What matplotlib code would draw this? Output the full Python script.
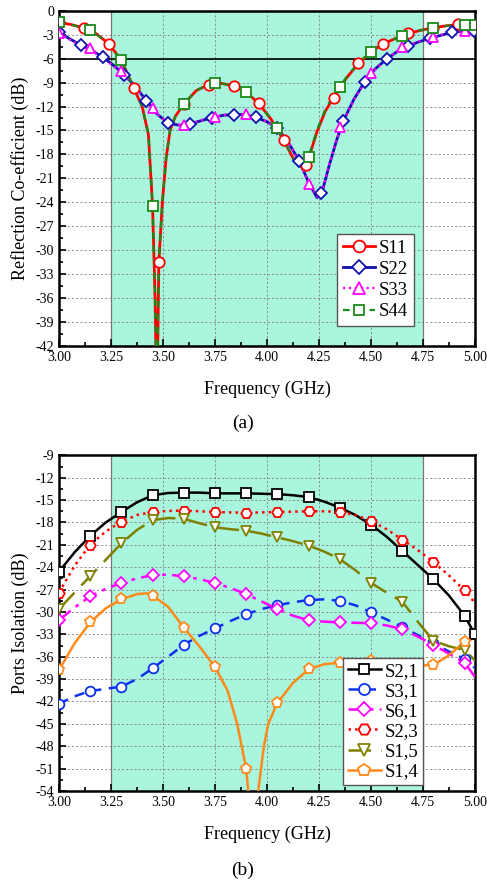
from matplotlib import pyplot
from matplotlib.lines import Line2D
from matplotlib.ticker import MultipleLocator

# ---- (a) reflection coefficients: curve points
s11_f = [3.00, 3.06, 3.12, 3.18, 3.24, 3.30, 3.36, 3.40, 3.43, 3.45,
         3.462, 3.471, 3.48, 3.497, 3.515, 3.534, 3.56, 3.60, 3.66, 3.72,
         3.78, 3.84, 3.90, 3.96, 4.02, 4.08, 4.13, 4.17, 4.20, 4.24,
         4.28, 4.32, 4.38, 4.44, 4.50, 4.56, 4.62, 4.68, 4.74, 4.80,
         4.86, 4.92, 5.00]
s11_db = [-1.45, -1.75, -2.15, -2.9, -4.15, -6.2, -9.7, -12.0, -15.5, -24.5,
          -36.0, -50.0, -31.5, -24.0, -18.5, -15.0, -13.2, -11.7, -10.0, -9.25,
          -9.1, -9.4, -10.2, -11.6, -13.6, -16.2, -18.7, -19.6, -18.5, -15.2,
          -12.6, -10.9, -8.5, -6.6, -5.15, -4.15, -3.45, -2.85, -2.45, -2.13,
          -1.9, -1.72, -1.7]
s44_db = [-1.4, -1.75, -2.2, -2.95, -4.2, -6.2, -9.7, -12.0, -15.5, -24.5,
          -36.0, -50.0, -31.5, -24.0, -18.5, -15.0, -13.2, -11.7, -10.0, -9.2,
          -9.1, -9.4, -10.2, -11.6, -13.6, -16.2, -18.6, -19.4, -18.3, -15.0,
          -12.4, -10.6, -8.4, -6.5, -5.15, -4.1, -3.45, -2.85, -2.45, -2.13,
          -1.9, -1.78, -1.8]

s22_f = [3.00, 3.05, 3.105, 3.16, 3.21, 3.26, 3.315, 3.37, 3.42, 3.47,
         3.525, 3.58, 3.63, 3.68, 3.735, 3.79, 3.84, 3.89, 3.945, 4.00,
         4.05, 4.10, 4.155, 4.20, 4.24, 4.265, 4.30, 4.335, 4.367, 4.42,
         4.47, 4.52, 4.575, 4.63, 4.68, 4.73, 4.785, 4.84, 4.89, 4.95,
         5.00]
s22_db = [-2.7, -3.5, -4.3, -5.0, -5.8, -6.8, -8.0, -9.6, -11.25, -12.9,
          -14.1, -14.35, -14.2, -13.8, -13.4, -13.1, -13.0, -13.0, -13.35, -13.9,
          -14.7, -16.4, -18.8, -21.5, -23.4, -22.7, -19.3, -16.2, -13.8, -11.0,
          -8.9, -7.3, -6.05, -5.05, -4.4, -3.9, -3.45, -3.05, -2.72, -2.55,
          -2.5]
s33_db = [-2.8, -3.6, -4.4, -5.1, -5.9, -6.9, -8.1, -9.7, -11.3, -12.9,
          -14.1, -14.3, -14.15, -13.75, -13.35, -13.05, -12.95, -12.95, -13.3, -13.9,
          -14.7, -16.4, -18.9, -21.6, -23.3, -22.6, -19.2, -16.1, -13.9, -11.1,
          -9.0, -7.4, -6.1, -5.0, -4.35, -3.85, -3.4, -3.0, -2.7, -2.55,
          -2.5]

# marker points
s11_mf = [3.00, 3.12, 3.24, 3.36, 3.48, 3.60, 3.72, 3.84, 3.96, 4.08,
          4.19, 4.32, 4.44, 4.56, 4.68, 4.80, 4.92]
s11_mdb = [-1.45, -2.15, -4.15, -9.7, -31.5, -11.7, -9.25, -9.4, -11.6, -16.2,
           -19.3, -10.9, -6.6, -4.15, -2.85, -2.13, -1.72]
s22_mf = [3.00, 3.105, 3.21, 3.315, 3.42, 3.525, 3.63, 3.735, 3.84, 3.945,
          4.05, 4.155, 4.26, 4.367, 4.47, 4.575, 4.68, 4.785, 4.89, 4.995]
s22_mdb = [-2.7, -4.3, -5.8, -8.0, -11.25, -14.1, -14.2, -13.4, -13.0, -13.35,
           -14.7, -18.8, -22.8, -13.8, -8.9, -6.05, -4.4, -3.45, -2.72, -2.5]
s33_mf = [3.00, 3.15, 3.30, 3.45, 3.60, 3.75, 3.90, 4.05, 4.20, 4.35,
          4.50, 4.65, 4.80, 4.95]
s33_mdb = [-2.85, -4.7, -7.5, -12.2, -14.3, -13.3, -12.9, -14.7, -21.7, -14.6,
           -7.8, -4.6, -3.25, -2.55]
s44_mf = [3.00, 3.15, 3.30, 3.45, 3.60, 3.75, 3.90, 4.05, 4.20, 4.35,
          4.50, 4.65, 4.80, 4.95, 5.00]
s44_mdb = [-1.4, -2.42, -6.2, -24.5, -11.7, -9.1, -10.2, -14.75, -18.3, -9.5,
           -5.15, -3.17, -2.13, -1.8, -1.8]

# ---- (b) isolation: markers every 0.15 GHz, plus in-between curve points
iso_f = [3.00, 3.075, 3.15, 3.225, 3.30, 3.375, 3.45, 3.525, 3.60, 3.675,
         3.75, 3.825, 3.90, 3.975, 4.05, 4.125, 4.20, 4.275, 4.35, 4.425,
         4.50, 4.575, 4.65, 4.725, 4.80, 4.875, 4.95, 5.00]
s21_db = [-24.6, -22.0, -19.8, -18.0, -16.6, -15.3, -14.35, -14.05, -14.0, -14.0,
          -14.1, -14.1, -14.1, -14.15, -14.2, -14.35, -14.6, -15.2, -16.0, -17.0,
          -18.3, -19.9, -21.8, -23.7, -25.6, -27.8, -30.5, -33.0]
s31_db = [-42.3, -41.3, -40.6, -40.3, -40.0, -39.0, -37.55, -36.0, -34.4, -33.2,
          -32.2, -31.2, -30.3, -29.6, -29.1, -28.7, -28.4, -28.3, -28.5, -29.1,
          -30.05, -31.0, -32.0, -33.1, -34.2, -35.3, -36.3, -37.5]
s61_db = [-31.1, -29.4, -27.9, -26.9, -26.1, -25.5, -25.05, -25.0, -25.2, -25.6,
          -26.1, -26.8, -27.6, -28.6, -29.6, -30.5, -31.1, -31.3, -31.4, -31.45,
          -31.5, -31.8, -32.3, -33.3, -34.4, -35.6, -36.8, -38.7]
s23_db = [-27.4, -23.8, -21.0, -19.2, -17.9, -17.0, -16.6, -16.45, -16.4, -16.5,
          -16.6, -16.65, -16.7, -16.65, -16.6, -16.55, -16.5, -16.5, -16.6, -17.0,
          -17.8, -18.9, -20.3, -21.7, -23.3, -25.1, -27.1, -28.8]
s15_db = [-29.6, -27.4, -25.2, -23.0, -20.8, -19.0, -17.7, -17.4, -17.5, -18.1,
          -18.65, -18.9, -19.1, -19.5, -20.0, -20.5, -21.1, -21.9, -22.9, -24.4,
          -26.1, -27.4, -28.6, -31.3, -33.85, -34.6, -35.1, -36.5]

s14_f = [3.00, 3.075, 3.15, 3.225, 3.30, 3.375, 3.42, 3.45, 3.525, 3.60,
         3.675, 3.75, 3.81, 3.857, 3.90, 3.91, 3.935, 3.958, 3.985, 4.006,
         4.05, 4.125, 4.20, 4.275, 4.35, 4.425, 4.50, 4.575, 4.65, 4.725,
         4.80, 4.875, 4.95, 5.00]
s14_db = [-37.8, -34.2, -31.4, -29.5, -28.3, -27.6, -27.5, -27.8, -29.3, -32.1,
          -34.6, -37.4, -40.5, -45.0, -51.0, -54.0, -62.0, -54.0, -48.0, -45.0,
          -42.2, -39.5, -37.7, -37.0, -36.8, -36.6, -36.6, -36.8, -37.0, -37.2,
          -37.1, -35.8, -34.0, -33.5]
s14_mf = [3.00, 3.15, 3.30, 3.45, 3.60, 3.75, 3.90, 4.05, 4.20, 4.35,
          4.50, 4.65, 4.80, 4.95]
s14_mdb = [-37.8, -31.4, -28.3, -27.8, -32.1, -37.4, -51.0, -42.2, -37.7, -36.8,
           -36.6, -37.0, -37.1, -34.0]

pyplot.rcParams["font.family"] = ["Liberation Serif", "DejaVu Serif"]
pyplot.rcParams["axes.unicode_minus"] = False

BAND = "#aaf5de"


def style_axes(ax, ymin, ymax):
    ax.axvspan(3.25, 4.75, facecolor=BAND, edgecolor="#707070",
               linewidth=0.9, zorder=0)
    ax.set_xlim(3.0, 5.0)
    ax.set_ylim(ymin, ymax)
    ax.xaxis.set_major_locator(MultipleLocator(0.25))
    ax.xaxis.set_minor_locator(MultipleLocator(0.125))
    ax.yaxis.set_major_locator(MultipleLocator(3))
    ax.yaxis.set_minor_locator(MultipleLocator(1.5))
    ax.xaxis.set_major_formatter(lambda v, p: f"{v:.2f}")
    ax.grid(True, which="major", color="#808080", linestyle=(0, (2.5, 2.5)),
            linewidth=0.6, zorder=1)
    ax.set_axisbelow(True)
    ax.tick_params(which="both", direction="in", top=False, right=False,
                   labelsize=10, width=1.2)
    ax.tick_params(which="major", length=5)
    ax.tick_params(which="minor", length=3)
    for spine in ax.spines.values():
        spine.set_linewidth(1.8)
    ax.set_xlabel("Frequency (GHz)", fontsize=13, labelpad=12)


def draw(ax, cf, cv, mf, mv, color, ls, marker, ms, lw=1.6, dash=None):
    line, = ax.plot(cf, cv, color=color, linestyle=ls, linewidth=lw, zorder=3)
    if dash is not None:
        line.set_dashes(dash)
    ax.plot(mf, mv, linestyle="none", marker=marker, markersize=ms,
            markerfacecolor="white", markeredgecolor=color,
            markeredgewidth=1.3, zorder=4)
    proxy = Line2D([], [], color=color, linestyle=ls, linewidth=lw,
                   marker=marker, markersize=ms + 1, markerfacecolor="white",
                   markeredgecolor=color, markeredgewidth=1.3)
    if dash is not None:
        proxy.set_dashes(dash)
    return proxy


fig = pyplot.figure(figsize=(4.87, 8.85), dpi=100)
ax1 = fig.add_axes([0.1211, 0.6090, 0.8542, 0.3789])
ax2 = fig.add_axes([0.1211, 0.1062, 0.8542, 0.3793])

# ---- panel (a)
style_axes(ax1, -42, 0)
ax1.axhline(-6, color="black", linewidth=1.2, zorder=2)
h = []
h.append(draw(ax1, s11_f, s11_db, s11_mf, s11_mdb, "#ff0000", "-", "o", 7.5, lw=2.0))
h.append(draw(ax1, s22_f, s22_db, s22_mf, s22_mdb, "#1010b0", "-", "D", 6.5, lw=2.0))
h.append(draw(ax1, s22_f, s33_db, s33_mf, s33_mdb, "#ff00ff", ":", "^", 7.5, lw=1.6))
h.append(draw(ax1, s11_f, s44_db, s44_mf, s44_mdb, "#1a8a1a", "--", "s", 6.5,
              lw=1.6, dash=(3, 3)))
ax1.set_ylabel("Reflection Co-efficient (dB)", fontsize=13, labelpad=5)
ax1.legend(h, ["S11", "S22", "S33", "S44"], loc="lower right",
           bbox_to_anchor=(0.853, 0.06), fontsize=13.5, frameon=True,
           fancybox=False, edgecolor="#555555", framealpha=1,
           handlelength=1.75, handletextpad=0.2, labelspacing=0.22,
           borderpad=0.3, borderaxespad=0)

# ---- panel (b)
style_axes(ax2, -54, -9)
g = []
g.append(draw(ax2, iso_f, s21_db, iso_f[::2] + [5.0], s21_db[::2] + [-33.0],
              "black", "-", "s", 6.5, lw=1.8))
g.append(draw(ax2, iso_f, s31_db, iso_f[::2], s31_db[::2],
              "#1030f0", "--", "o", 7, lw=1.8, dash=(4, 3)))
g.append(draw(ax2, iso_f, s61_db, iso_f[::2], s61_db[::2],
              "#ff00ff", "-.", "D", 6.5, lw=1.8, dash=(6, 2.5, 1.5, 2.5)))
g.append(draw(ax2, iso_f, s23_db, iso_f[::2], s23_db[::2],
              "#ff0000", ":", "H", 7.5, lw=1.8))
g.append(draw(ax2, iso_f, s15_db, iso_f[::2], s15_db[::2],
              "#808000", "--", "v", 7.5, lw=1.8, dash=(9, 4)))
g.append(draw(ax2, s14_f, s14_db, s14_mf, s14_mdb,
              "#ff8a1a", "-", "p", 8, lw=1.8))
ax2.set_ylabel("Ports Isolation (dB)", fontsize=13, labelpad=5)
ax2.legend(g, ["S2,1", "S3,1", "S6,1", "S2,3", "S1,5", "S1,4"],
           loc="lower right", bbox_to_anchor=(0.875, 0.018), fontsize=13.5,
           frameon=True, fancybox=False, edgecolor="#555555", framealpha=1,
           handlelength=1.75, handletextpad=0.2, labelspacing=0.16,
           borderpad=0.25, borderaxespad=0)

fig.text(0.499, 0.522, "(a)", ha="center", va="center", fontsize=14)
fig.text(0.499, 0.017, "(b)", ha="center", va="center", fontsize=14)

fig.savefig("out.png", dpi=100)
